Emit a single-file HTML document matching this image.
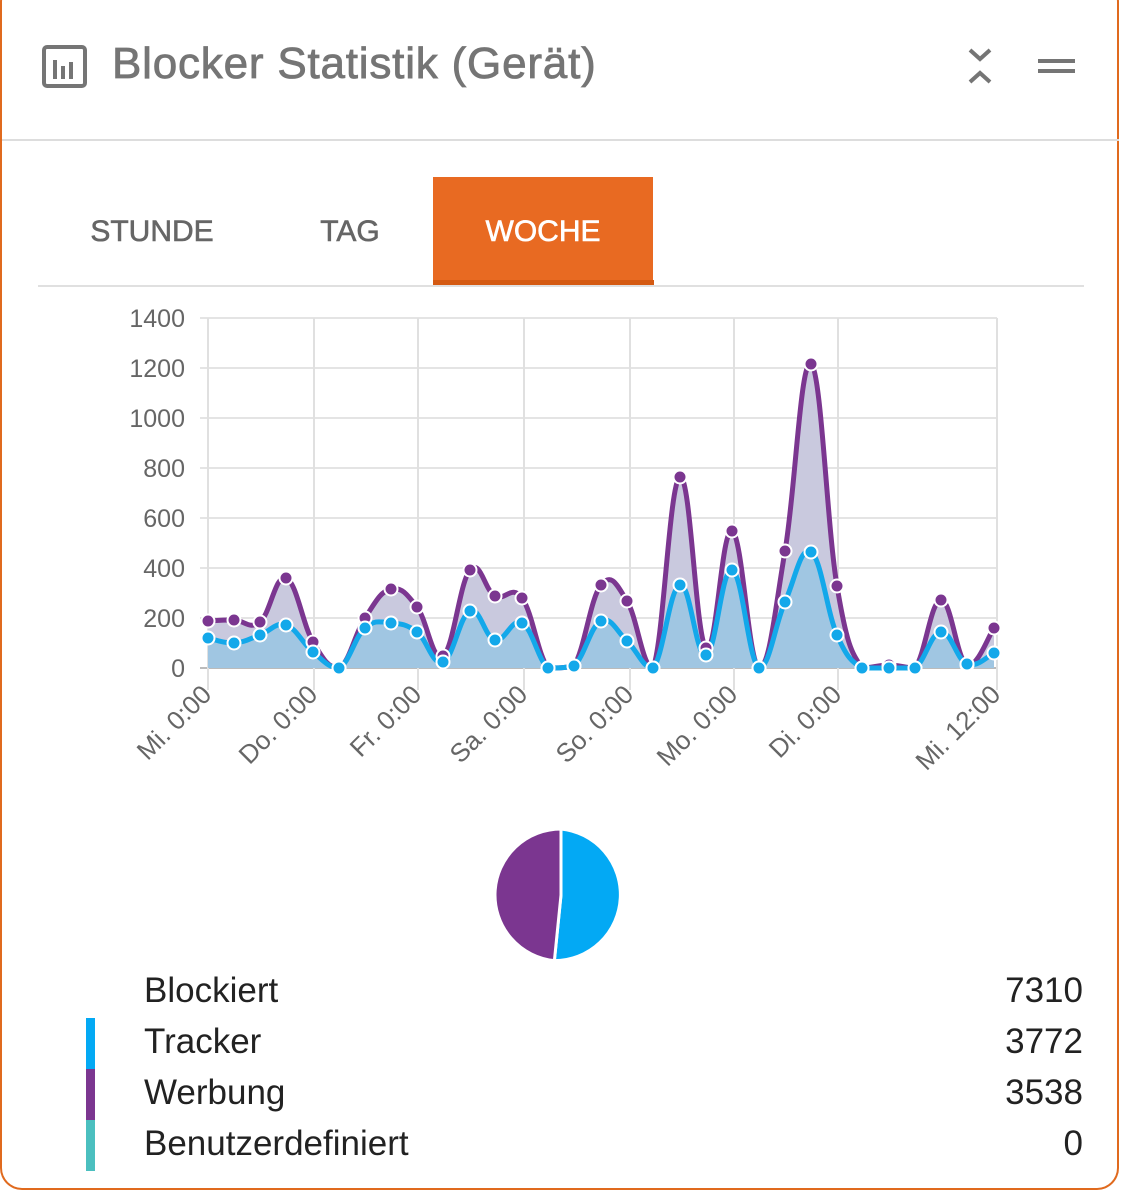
<!DOCTYPE html>
<html><head><meta charset="utf-8"><style>
html,body{margin:0;padding:0;background:#fff;}
body{width:1123px;height:1195px;position:relative;overflow:hidden;font-family:"Liberation Sans",sans-serif;}
.card{position:absolute;left:0;top:-20px;width:1119px;height:1210px;border:2px solid #e06a1e;border-top:none;border-radius:22px;box-sizing:border-box;}
.t{position:absolute;white-space:nowrap;}
</style></head><body>
<div class="card"></div>
<svg width="1123" height="1195" style="position:absolute;left:0;top:0">
<rect x="44" y="47" width="41" height="39" rx="3" fill="none" stroke="#757575" stroke-width="4"/>
<rect x="53" y="60" width="4" height="19" fill="#757575"/><rect x="61" y="66" width="4" height="13" fill="#757575"/><rect x="69" y="62" width="4" height="17" fill="#757575"/>
<path d="M970 50 L980 59 L990 50 M970 82 L980 73 L990 82" fill="none" stroke="#757575" stroke-width="4"/>
<rect x="1038" y="59" width="37" height="4" fill="#757575"/><rect x="1038" y="69" width="37" height="4" fill="#757575"/>
<line x1="2" y1="140" x2="1119" y2="140" stroke="#ddd" stroke-width="2"/>
<rect x="433" y="177" width="220" height="106" fill="#e86a22"/>
<rect x="433" y="280" width="221" height="5" fill="#d45a12"/>
<line x1="38" y1="286" x2="1084" y2="286" stroke="#e0e0e0" stroke-width="2"/>
<text x="152" y="241" font-size="30" fill="#666" text-anchor="middle" stroke="#666" stroke-width="0.6">STUNDE</text>
<text x="350" y="241" font-size="30" fill="#666" text-anchor="middle" stroke="#666" stroke-width="0.6">TAG</text>
<text x="543" y="241" font-size="30" fill="#fff" text-anchor="middle" stroke="#fff" stroke-width="0.6">WOCHE</text>
<g id="grid"></g>
<g id="series"></g>
<g id="pie"></g>
</svg>
<div class="t" style="left:112px;top:39px;font-size:44px;color:#757575;letter-spacing:0.8px;-webkit-text-stroke:0.8px #757575;">Blocker Statistik (Gerät)</div>
<div style="position:absolute;left:86px;top:1018px;width:9px;height:51px;background:#03a9f4"></div>
<div style="position:absolute;left:86px;top:1069px;width:9px;height:51px;background:#7b3690"></div>
<div style="position:absolute;left:86px;top:1120px;width:9px;height:51px;background:#4bbfbf"></div>
<div class="t" style="left:144px;top:971px;font-size:35px;color:#222">Blockiert</div>
<div class="t" style="left:144px;top:1022px;font-size:35px;color:#222">Tracker</div>
<div class="t" style="left:144px;top:1073px;font-size:35px;color:#222">Werbung</div>
<div class="t" style="left:144px;top:1124px;font-size:35px;color:#222">Benutzerdefiniert</div>
<div class="t" style="right:40px;top:971px;font-size:35px;color:#222">7310</div>
<div class="t" style="right:40px;top:1022px;font-size:35px;color:#222">3772</div>
<div class="t" style="right:40px;top:1073px;font-size:35px;color:#222">3538</div>
<div class="t" style="right:40px;top:1124px;font-size:35px;color:#222">0</div>
<script>
var NS="http://www.w3.org/2000/svg";
function el(p,tag,a,txt){var e=document.createElementNS(NS,tag);for(var k in a)e.setAttribute(k,a[k]);if(txt!=null)e.textContent=txt;p.appendChild(e);return e;}
var g=document.getElementById('grid');
for(var i=0;i<=7;i++){var y=668-i*50;el(g,'line',{x1:200,x2:997,y1:y,y2:y,stroke:i==0?'#bbb':'#e4e4e4','stroke-width':2});
el(g,'text',{x:185,y:y+9,'font-size':25,fill:'#666','text-anchor':'end'},String(i*200));}
var vx=[208,314,418,524,630,734,838,997],lb=['Mi. 0:00','Do. 0:00','Fr. 0:00','Sa. 0:00','So. 0:00','Mo. 0:00','Di. 0:00','Mi. 12:00'];
vx.forEach(function(x,i){el(g,'line',{x1:x,x2:x,y1:318,y2:690,stroke:'#e0e0e0','stroke-width':2});
el(g,'text',{x:0,y:0,'font-size':26,fill:'#666','text-anchor':'end',transform:'translate('+(x+5)+',696) rotate(-45)'},lb[i]);});
var X=[208,234,260,286,313,339,365,391,417,443,470,495,522,548,574,601,627,653,680,706,732,759,785,811,837,862,889,915,941,967,994];
var P=[621,620,622,578,642,668,618,589,607,656,570,596,598,668,666,585,601,668,477,648,531,668,551,364,586,668,665,668,600,665,628];
var B=[638,643,635,625,652,668,628,623,632,662,611,640,623,668,666,621,641,668,585,655,570,668,602,552,635,668,668,668,632,664,653];
function spl(Y){var d='M'+X[0]+' '+Y[0],t=0.2;for(var i=0;i<X.length-1;i++){var x0=X[i-1]!=null?X[i-1]:X[i],y0=Y[i-1]!=null?Y[i-1]:Y[i],x3=X[i+2]!=null?X[i+2]:X[i+1],y3=Y[i+2]!=null?Y[i+2]:Y[i+1];
var c1x=X[i]+(X[i+1]-x0)*t,c1y=Math.min(668,Y[i]+(Y[i+1]-y0)*t),c2x=X[i+1]-(x3-X[i])*t,c2y=Math.min(668,Y[i+1]-(y3-Y[i])*t);
d+=' C'+c1x+' '+c1y+' '+c2x+' '+c2y+' '+X[i+1]+' '+Y[i+1];}return d;}
var s=document.getElementById('series');
var dp=spl(P),db=spl(B),close=' L994 668 L208 668 Z';
el(s,'path',{d:dp+close,fill:'#c9c9de'});
el(s,'path',{d:db+close,fill:'#a0c6e2'});
el(s,'path',{d:dp,fill:'none',stroke:'#7b3690','stroke-width':5});
el(s,'path',{d:db,fill:'none',stroke:'#13a8ea','stroke-width':5});
X.forEach(function(x,i){el(s,'circle',{cx:x,cy:P[i],r:6.5,fill:'#7b3690',stroke:'#fff','stroke-width':2});});
X.forEach(function(x,i){el(s,'circle',{cx:x,cy:B[i],r:6.5,fill:'#13a8ea',stroke:'#fff','stroke-width':2});});
var p=document.getElementById('pie'),cx=561,cy=895,r=66,f=3772/7310,a=f*2*Math.PI;
var ex=cx+r*Math.sin(a),ey=cy-r*Math.cos(a);
el(p,'path',{d:'M'+cx+' '+cy+' L'+cx+' '+(cy-r)+' A'+r+' '+r+' 0 0 1 '+ex+' '+ey+' Z',fill:'#03a9f4',stroke:'#fff','stroke-width':3});
el(p,'path',{d:'M'+cx+' '+cy+' L'+ex+' '+ey+' A'+r+' '+r+' 0 0 1 '+cx+' '+(cy-r)+' Z',fill:'#7b3690',stroke:'#fff','stroke-width':3});
</script>
</body></html>
